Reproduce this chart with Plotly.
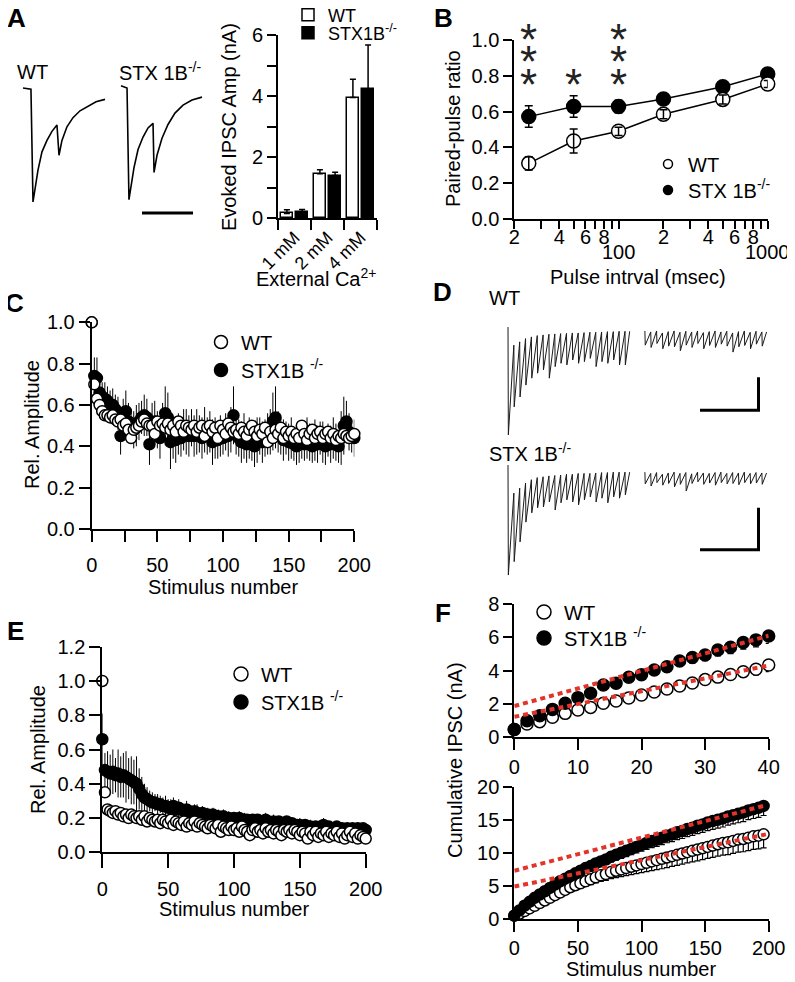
import math
import plotly.graph_objects as go

# page geometry: the browser draws the figure inside an 8px body margin
PAGE_W, PAGE_H = 795, 982
OFF = 8
W, H = PAGE_W - OFF, PAGE_H - OFF
FONT = "Arial, Liberation Sans, sans-serif"

# ---------------- A: evoked IPSC amplitude ----------------
ca_labels = ["1 mM", "2 mM", "4 mM"]
amp_wt = [0.15, 1.45, 3.95]
amp_wt_sem = [0.12, 0.13, 0.60]
amp_ko = [0.20, 1.39, 4.24]
amp_ko_sem = [0.08, 0.11, 1.43]

# A: example paired-pulse traces (time in ms, normalised current)
pp_t_wt = [0, 7.8, 9.8, 11.8, 14.7, 18.6, 23.5, 28.4, 33.3, 35.3, 38.2, 43.1, 49.0, 55.9, 63.7, 71.6, 80.4]
pp_i_wt = [0, -0.01, -1.0, -0.895, -0.72, -0.56, -0.46, -0.38, -0.325, -0.59, -0.46, -0.34, -0.26, -0.20, -0.16, -0.12, -0.10]
pp_t_ko = [0, 5.9, 7.8, 9.8, 12.7, 16.7, 21.6, 26.5, 31.4, 32.4, 35.3, 40.2, 46.1, 52.9, 60.8, 69.6, 79.4]
pp_i_ko = [0.02, 0, -0.98, -0.88, -0.70, -0.54, -0.43, -0.35, -0.31, -0.74, -0.59, -0.44, -0.32, -0.22, -0.15, -0.105, -0.08]
pp_scale_ms = 50

# ---------------- B: paired-pulse ratio ----------------
ppr_interval = [25, 50, 100, 200, 500, 1000]
ppr_wt = [0.311, 0.436, 0.490, 0.585, 0.668, 0.754]
ppr_wt_sem = [0.037, 0.067, 0.023, 0.025, 0.025, 0.020]
ppr_ko = [0.572, 0.628, 0.628, 0.670, 0.739, 0.810]
ppr_ko_sem = [0.060, 0.060, 0.035, 0.020, 0.020, 0.020]
sig_interval = [25, 50, 100]
sig_stars = [3, 1, 3]

# ---------------- C: relative amplitude (every 2nd stimulus) ----------------
stim_c = list(range(0, 201, 2))
rel_c_wt = [1.00, 0.70, 0.63, 0.60, 0.57, 0.55, 0.55, 0.54, 0.55, 0.53,
            0.52, 0.53, 0.50, 0.51, 0.48, 0.44, 0.48, 0.49, 0.50, 0.52,
            0.53, 0.51, 0.50, 0.50, 0.46, 0.52, 0.50, 0.51, 0.49, 0.51,
            0.48, 0.50, 0.47, 0.52, 0.50, 0.47, 0.50, 0.49, 0.48, 0.50,
            0.47, 0.49, 0.50, 0.45, 0.49, 0.50, 0.47, 0.49, 0.44, 0.50,
            0.48, 0.46, 0.51, 0.49, 0.47, 0.48, 0.46, 0.49, 0.47, 0.45,
            0.48, 0.50, 0.47, 0.45, 0.48, 0.46, 0.49, 0.42, 0.47, 0.44,
            0.48, 0.46, 0.49, 0.44, 0.47, 0.45, 0.47, 0.44, 0.46, 0.44,
            0.50, 0.46, 0.43, 0.46, 0.48, 0.44, 0.46, 0.47, 0.44, 0.46,
            0.47, 0.44, 0.46, 0.43, 0.45, 0.44, 0.46, 0.45, 0.44, 0.45,
            0.46]
rel_c_ko = [1.00, 0.74, 0.73, 0.66, 0.64, 0.63, 0.62, 0.60, 0.60, 0.58,
            0.56, 0.45, 0.55, 0.57, 0.52, 0.50, 0.48, 0.50, 0.52, 0.54,
            0.55, 0.54, 0.41, 0.50, 0.52, 0.48, 0.44, 0.52, 0.56, 0.54,
            0.42, 0.44, 0.43, 0.46, 0.44, 0.48, 0.47, 0.45, 0.49, 0.45,
            0.47, 0.46, 0.44, 0.48, 0.45, 0.47, 0.42, 0.44, 0.43, 0.45,
            0.44, 0.47, 0.45, 0.48, 0.55, 0.46, 0.44, 0.42, 0.45, 0.41,
            0.44, 0.42, 0.40, 0.43, 0.45, 0.42, 0.44, 0.46, 0.47, 0.52,
            0.54, 0.47, 0.45, 0.43, 0.44, 0.42, 0.44, 0.41, 0.40, 0.42,
            0.43, 0.41, 0.44, 0.42, 0.40, 0.43, 0.41, 0.44, 0.42, 0.40,
            0.43, 0.41, 0.44, 0.42, 0.40, 0.44, 0.50, 0.52, 0.47, 0.45,
            0.44]
rel_c_ko_sem = [0.00, 0.09, 0.10, 0.08, 0.07, 0.08, 0.07, 0.07, 0.08, 0.07,
                0.08, 0.09, 0.08, 0.10, 0.09, 0.08, 0.09, 0.10, 0.09, 0.08,
                0.10, 0.09, 0.10, 0.11, 0.10, 0.09, 0.10, 0.09, 0.13, 0.12,
                0.13, 0.10, 0.11, 0.10, 0.09, 0.10, 0.11, 0.10, 0.09, 0.10,
                0.11, 0.09, 0.10, 0.11, 0.09, 0.10, 0.11, 0.10, 0.09, 0.10,
                0.08, 0.09, 0.10, 0.11, 0.14, 0.10, 0.09, 0.10, 0.11, 0.09,
                0.10, 0.09, 0.10, 0.11, 0.09, 0.10, 0.09, 0.10, 0.11, 0.14,
                0.15, 0.10, 0.09, 0.10, 0.08, 0.09, 0.10, 0.08, 0.09, 0.10,
                0.09, 0.08, 0.10, 0.09, 0.08, 0.10, 0.09, 0.08, 0.10, 0.09,
                0.08, 0.09, 0.10, 0.09, 0.08, 0.13, 0.14, 0.10, 0.09, 0.08,
                0.09]

# ---------------- D: example trains (per-stimulus top / peak, nA) ----------------
train_isi_ms = 50
train_gap_start_ms = 1170
d_wt_top1 = [0, -0.55, -0.45, -0.35, -0.30, -0.26, -0.24, -0.22, -0.21, -0.20, -0.19,
             -0.18, -0.18, -0.17, -0.16, -0.16, -0.15, -0.14, -0.14, -0.13, -0.13]
d_wt_peak1 = [-3.27, -2.42, -2.12, -1.76, -1.55, -1.40, -1.30, -1.55, -1.20, -1.10, -1.15,
              -1.00, -1.10, -1.05, -0.95, -1.20, -1.05, -1.10, -1.00, -1.15, -1.15]
d_wt_top2 = [-0.12, -0.15, -0.12, -0.18, -0.14, -0.12, -0.16, -0.13, -0.15, -0.12, -0.17,
             -0.14, -0.12, -0.15, -0.13, -0.18, -0.14, -0.12, -0.16, -0.13, -0.15]
d_wt_peak2 = [-0.55, -0.62, -0.50, -0.66, -0.58, -0.60, -0.72, -0.55, -0.62, -0.50, -0.66,
              -0.56, -0.62, -0.52, -0.58, -0.76, -0.60, -0.56, -0.66, -0.52, -0.58]
d_ko_top1 = [0, -0.67, -0.55, -0.43, -0.35, -0.30, -0.28, -0.26, -0.25, -0.24, -0.22,
             -0.22, -0.20, -0.20, -0.20, -0.19, -0.18, -0.18, -0.17, -0.17, -0.17]
d_ko_peak1 = [-2.62, -2.30, -1.83, -1.36, -1.14, -1.02, -1.00, -0.88, -1.07, -0.90, -0.83,
              -0.88, -0.95, -0.83, -0.76, -0.88, -0.79, -0.90, -0.76, -0.79, -0.71]
d_ko_top2 = [-0.17, -0.20, -0.18, -0.22, -0.19, -0.17, -0.20, -0.18, -0.21, -0.17, -0.19,
             -0.20, -0.18, -0.17, -0.20, -0.18, -0.19, -0.17, -0.20, -0.18, -0.19]
d_ko_peak2 = [-0.45, -0.50, -0.42, -0.48, -0.44, -0.52, -0.46, -0.62, -0.44, -0.40, -0.46,
              -0.43, -0.48, -0.42, -0.45, -0.44, -0.47, -0.42, -0.45, -0.43, -0.46]
d_scale_ms = 500
d_scale_na = 1

# ---------------- E: relative amplitude (every 2nd stimulus) ----------------
stim_e = list(range(0, 201, 2))
rel_e_wt = [1.00, 0.35, 0.25, 0.24, 0.23, 0.24, 0.22, 0.23, 0.21, 0.22,
            0.20, 0.22, 0.21, 0.20, 0.21, 0.19, 0.21, 0.18, 0.20, 0.19,
            0.18, 0.19, 0.17, 0.19, 0.18, 0.17, 0.19, 0.16, 0.18, 0.17,
            0.16, 0.18, 0.15, 0.17, 0.16, 0.18, 0.15, 0.17, 0.16, 0.15,
            0.14, 0.16, 0.15, 0.14, 0.16, 0.12, 0.15, 0.14, 0.13, 0.15,
            0.13, 0.14, 0.12, 0.15, 0.13, 0.12, 0.10, 0.13, 0.14, 0.12,
            0.13, 0.11, 0.14, 0.12, 0.13, 0.11, 0.13, 0.12, 0.10, 0.13,
            0.12, 0.13, 0.11, 0.13, 0.12, 0.10, 0.12, 0.11, 0.08, 0.12,
            0.10, 0.12, 0.09, 0.11, 0.10, 0.12, 0.09, 0.11, 0.10, 0.12,
            0.09, 0.11, 0.08, 0.10, 0.12, 0.09, 0.11, 0.08, 0.10, 0.09,
            0.08]
rel_e_ko = [0.66, 0.48, 0.47, 0.46, 0.47, 0.45, 0.46, 0.44, 0.45, 0.44,
            0.43, 0.42, 0.41, 0.40, 0.37, 0.34, 0.32, 0.31, 0.30, 0.29,
            0.29, 0.28, 0.28, 0.27, 0.27, 0.26, 0.26, 0.27, 0.25, 0.26,
            0.25, 0.24, 0.25, 0.24, 0.23, 0.24, 0.23, 0.22, 0.23, 0.22,
            0.22, 0.21, 0.22, 0.21, 0.21, 0.20, 0.21, 0.20, 0.20, 0.19,
            0.20, 0.19, 0.20, 0.19, 0.19, 0.19, 0.18, 0.19, 0.18, 0.19,
            0.18, 0.18, 0.19, 0.18, 0.17, 0.18, 0.17, 0.18, 0.17, 0.17,
            0.18, 0.16, 0.17, 0.16, 0.16, 0.16, 0.15, 0.16, 0.15, 0.15,
            0.14, 0.15, 0.14, 0.15, 0.16, 0.14, 0.15, 0.14, 0.14, 0.15,
            0.13, 0.14, 0.13, 0.14, 0.13, 0.14, 0.13, 0.14, 0.13, 0.14,
            0.13]
rel_e_ko_sem = [0.15, 0.10, 0.12, 0.11, 0.13, 0.10, 0.14, 0.12, 0.13, 0.15,
                0.12, 0.14, 0.13, 0.16, 0.12, 0.10, 0.08, 0.07, 0.06, 0.06,
                0.05, 0.06, 0.05, 0.05, 0.06, 0.05, 0.05, 0.05, 0.04, 0.05,
                0.04, 0.04, 0.05, 0.04, 0.04, 0.04, 0.05, 0.04, 0.04, 0.04,
                0.04, 0.04, 0.04, 0.03, 0.04, 0.04, 0.04, 0.03, 0.04, 0.04,
                0.03, 0.04, 0.04, 0.03, 0.04, 0.03, 0.04, 0.03, 0.04, 0.03,
                0.04, 0.03, 0.04, 0.03, 0.03, 0.04, 0.03, 0.03, 0.04, 0.03,
                0.03, 0.04, 0.03, 0.03, 0.03, 0.04, 0.03, 0.03, 0.03, 0.04,
                0.03, 0.03, 0.03, 0.03, 0.04, 0.03, 0.03, 0.03, 0.03, 0.03,
                0.03, 0.03, 0.03, 0.03, 0.03, 0.03, 0.03, 0.03, 0.03, 0.03,
                0.03]

# ---------------- F: cumulative IPSC ----------------
stim_f1 = list(range(0, 41, 2))
cum1_wt = [0.44, 0.77, 0.91, 1.17, 1.41, 1.61, 1.77, 2.02, 2.16, 2.34, 2.52,
           2.70, 2.88, 3.06, 3.24, 3.45, 3.60, 3.76, 3.93, 4.08, 4.33]
cum1_wt_sem = [0.03, 0.05, 0.06, 0.08, 0.10, 0.11, 0.12, 0.14, 0.15, 0.17, 0.18,
               0.20, 0.21, 0.23, 0.24, 0.26, 0.28, 0.30, 0.32, 0.34, 0.40]
cum1_ko = [0.44, 0.97, 1.27, 1.65, 2.02, 2.36, 2.62, 3.12, 3.23, 3.59, 3.75,
           4.03, 4.23, 4.58, 4.78, 4.94, 5.24, 5.40, 5.69, 5.85, 6.09]
cum1_ko_sem = [0.05, 0.08, 0.10, 0.12, 0.14, 0.16, 0.18, 0.20, 0.22, 0.24, 0.26,
               0.28, 0.30, 0.32, 0.33, 0.35, 0.36, 0.38, 0.40, 0.42, 0.45]
fit1_x = [0, 40]
fit1_wt = [1.20, 4.30]
fit1_ko = [1.85, 6.10]

stim_f2 = list(range(0, 197, 4))
cum2_wt = [0.5, 0.8, 1.2, 1.6, 2.0, 2.4, 2.8, 3.2, 3.6, 4.0,
           4.4, 4.8, 5.1, 5.4, 5.7, 6.0, 6.3, 6.6, 6.8, 7.1,
           7.3, 7.5, 7.7, 7.9, 8.1, 8.3, 8.5, 8.7, 8.9, 9.1,
           9.3, 9.5, 9.7, 9.9, 10.1, 10.3, 10.5, 10.7, 10.9, 11.1,
           11.3, 11.5, 11.6, 11.8, 12.0, 12.1, 12.3, 12.5, 12.6, 12.8]
cum2_wt_sem = [0.05, 0.1, 0.15, 0.2, 0.25, 0.3, 0.35, 0.4, 0.45, 0.5,
               0.55, 0.6, 0.65, 0.7, 0.75, 0.8, 0.85, 0.9, 0.95, 1.0,
               1.05, 1.1, 1.15, 1.2, 1.25, 1.3, 1.35, 1.4, 1.45, 1.5,
               1.52, 1.55, 1.58, 1.6, 1.63, 1.66, 1.7, 1.72, 1.75, 1.78,
               1.8, 1.83, 1.86, 1.88, 1.9, 1.93, 1.95, 1.98, 2.0, 2.05]
cum2_ko = [0.5, 1.3, 2.0, 2.6, 3.2, 3.7, 4.2, 4.7, 5.2, 5.7,
           6.1, 6.5, 6.9, 7.3, 7.7, 8.0, 8.4, 8.7, 9.0, 9.4,
           9.7, 10.0, 10.3, 10.6, 10.9, 11.2, 11.5, 11.8, 12.0, 12.3,
           12.6, 12.8, 13.1, 13.3, 13.6, 13.8, 14.1, 14.3, 14.6, 14.8,
           15.0, 15.2, 15.5, 15.7, 15.9, 16.1, 16.4, 16.6, 16.8, 17.1]
cum2_ko_sem = [0.05, 0.08, 0.1, 0.14, 0.18, 0.22, 0.26, 0.3, 0.34, 0.38,
               0.42, 0.46, 0.5, 0.54, 0.58, 0.62, 0.66, 0.7, 0.74, 0.78,
               0.8, 0.83, 0.86, 0.89, 0.92, 0.95, 0.98, 1.0, 1.03, 1.05,
               1.07, 1.09, 1.11, 1.13, 1.15, 1.17, 1.19, 1.21, 1.23, 1.25,
               1.27, 1.29, 1.31, 1.33, 1.35, 1.37, 1.39, 1.41, 1.43, 1.45]
fit2_x = [0, 198]
fit2_wt = [4.9, 12.8]
fit2_ko = [7.3, 17.2]

# ======================================================================
def dx(a, b):
    return [(a - OFF) / W, (b - OFF) / W]


def dy(top, bottom):
    return [1 - (bottom - OFF) / H, 1 - (top - OFF) / H]


def px_range(p0, p1, zero_px, px_per_unit, invert=False):
    if invert:
        return [(zero_px - p1) / px_per_unit, (zero_px - p0) / px_per_unit]
    return [(p0 - zero_px) / px_per_unit, (p1 - zero_px) / px_per_unit]


FS = 20
TF = dict(family=FONT, size=FS, color="black")
AX = dict(showline=True, linecolor="black", linewidth=2, ticks="outside", tickwidth=1.5,
          tickcolor="black", ticklen=9, showgrid=False, zeroline=False, tickfont=TF,
          fixedrange=True, mirror=False, automargin=False)
HID = dict(visible=False, fixedrange=True, showgrid=False, zeroline=False, automargin=False)
MINOR = dict(ticks="outside", tickwidth=1.5, tickcolor="black", showgrid=False)

fig = go.Figure()

WHITE_MK = dict(symbol="circle", color="white", line=dict(color="black", width=1.5))
BLACK_MK = dict(symbol="circle", color="black", line=dict(color="black", width=1.5))

# ---------------- A bars ----------------
xc = list(range(len(ca_labels)))
fig.add_trace(go.Bar(x=[i + 0.27 for i in xc], y=amp_wt, width=0.34, name="WT",
                     marker=dict(color="white", line=dict(color="black", width=1.5)),
                     error_y=dict(type="data", symmetric=False, array=amp_wt_sem,
                                  arrayminus=[0] * 3, thickness=1.5, width=3, color="black"),
                     xaxis="x", yaxis="y", legend="legend", showlegend=True, hoverinfo="skip"))
fig.add_trace(go.Bar(x=[i + 0.73 for i in xc], y=amp_ko, width=0.34, name="STX1B<sup>-/-</sup>",
                     marker=dict(color="black", line=dict(color="black", width=1.5)),
                     error_y=dict(type="data", symmetric=False, array=amp_ko_sem,
                                  arrayminus=[0] * 3, thickness=1.5, width=3, color="black"),
                     xaxis="x", yaxis="y", legend="legend6", showlegend=True, hoverinfo="skip"))

# A traces
fig.add_trace(go.Scatter(x=pp_t_wt, y=pp_i_wt, mode="lines", line=dict(color="black", width=1.6),
                         xaxis="x7", yaxis="y7", showlegend=False, hoverinfo="skip"))
fig.add_trace(go.Scatter(x=pp_t_ko, y=pp_i_ko, mode="lines", line=dict(color="black", width=1.6),
                         xaxis="x8", yaxis="y8", showlegend=False, hoverinfo="skip"))
fig.add_trace(go.Scatter(x=[20.6, 20.6 + pp_scale_ms], y=[-1.096, -1.096], mode="lines",
                         line=dict(color="black", width=3), xaxis="x8", yaxis="y8",
                         showlegend=False, hoverinfo="skip"))

# ---------------- B ----------------
fig.add_trace(go.Scatter(x=ppr_interval, y=ppr_ko, mode="lines+markers", cliponaxis=False,
                         line=dict(color="black", width=1.5), marker=dict(size=14, **BLACK_MK),
                         error_y=dict(type="data", array=ppr_ko_sem, thickness=1.5, width=4, color="black"),
                         xaxis="x2", yaxis="y2", showlegend=False, hoverinfo="skip"))
fig.add_trace(go.Scatter(x=ppr_interval, y=ppr_wt, mode="lines+markers", cliponaxis=False,
                         line=dict(color="black", width=1.5), marker=dict(size=14, **WHITE_MK),
                         xaxis="x2", yaxis="y2", showlegend=False, hoverinfo="skip"))
fig.add_trace(go.Scatter(x=ppr_interval, y=ppr_wt, mode="markers", cliponaxis=False,
                         marker=dict(size=1, color="rgba(0,0,0,0)"),
                         error_y=dict(type="data", array=ppr_wt_sem, thickness=1.5, width=4, color="black"),
                         xaxis="x2", yaxis="y2", showlegend=False, hoverinfo="skip"))


def legend_item(name, mk, size, xa, ya, legend_id):
    fig.add_trace(go.Scatter(x=[None], y=[None], mode="markers", name=name,
                             marker=dict(size=size, **mk), xaxis=xa, yaxis=ya,
                             legend=legend_id, showlegend=True, hoverinfo="skip"))


legend_item("WT", WHITE_MK, 9, "x2", "y2", "legend2")
legend_item("STX 1B<sup>-/-</sup>", BLACK_MK, 9, "x2", "y2", "legend7")

# ---------------- C ----------------
fig.add_trace(go.Scatter(x=stim_c, y=rel_c_ko, mode="markers", cliponaxis=False,
                         marker=dict(size=11, **BLACK_MK),
                         error_y=dict(type="data", array=rel_c_ko_sem, thickness=1, width=0, color="black"),
                         xaxis="x3", yaxis="y3", showlegend=False, hoverinfo="skip"))
fig.add_trace(go.Scatter(x=stim_c, y=rel_c_wt, mode="markers", cliponaxis=False,
                         marker=dict(size=11, **WHITE_MK),
                         xaxis="x3", yaxis="y3", showlegend=False, hoverinfo="skip"))
legend_item("WT", WHITE_MK, 13, "x3", "y3", "legend3")
legend_item("STX1B <sup>-/-</sup>", BLACK_MK, 13, "x3", "y3", "legend8")


# ---------------- D ----------------
def sawtooth(t0, tops, peaks, tail):
    xs, ys = [], []
    for i, (tp, pk) in enumerate(zip(tops, peaks)):
        t = t0 + i * train_isi_ms
        xs += [t, t + 0.06 * train_isi_ms]
        ys += [tp, pk]
    xs.append(t0 + (len(peaks) - 0.2) * train_isi_ms)
    ys.append(tail)
    return xs, ys


for xa, ya, tops1, peaks1, tops2, peaks2 in [
        ("x9", "y9", d_wt_top1, d_wt_peak1, d_wt_top2, d_wt_peak2),
        ("x10", "y10", d_ko_top1, d_ko_peak1, d_ko_top2, d_ko_peak2)]:
    for t0, tps, pks in [(0, tops1, peaks1), (train_gap_start_ms, tops2, peaks2)]:
        sx, sy = sawtooth(t0, tps, pks, tps[-1])
        fig.add_trace(go.Scatter(x=sx, y=sy, mode="lines", line=dict(color="#1a1a1a", width=1),
                                 xaxis=xa, yaxis=ya, showlegend=False, hoverinfo="skip"))
bar_t_end = 2141
for xa, ya, base in [("x9", "y9", -2.52), ("x10", "y10", -2.02)]:
    fig.add_trace(go.Scatter(x=[bar_t_end - d_scale_ms, bar_t_end, bar_t_end],
                             y=[base, base, base + d_scale_na], mode="lines",
                             line=dict(color="black", width=3), xaxis=xa, yaxis=ya,
                             showlegend=False, hoverinfo="skip"))

# ---------------- E ----------------
fig.add_trace(go.Scatter(x=stim_e, y=rel_e_ko, mode="markers", cliponaxis=False,
                         marker=dict(size=11, **BLACK_MK),
                         error_y=dict(type="data", array=rel_e_ko_sem, thickness=1, width=0, color="black"),
                         xaxis="x4", yaxis="y4", showlegend=False, hoverinfo="skip"))
fig.add_trace(go.Scatter(x=stim_e, y=rel_e_wt, mode="markers", cliponaxis=False,
                         marker=dict(size=11, **WHITE_MK),
                         xaxis="x4", yaxis="y4", showlegend=False, hoverinfo="skip"))
legend_item("WT", WHITE_MK, 14, "x4", "y4", "legend4")
legend_item("STX1B <sup>-/-</sup>", BLACK_MK, 14, "x4", "y4", "legend9")

# ---------------- F ----------------
RED = "#e3342b"
for xa, ya, sx, wt, wts, ko, kos, fx, fwt, fko, ms in [
        ("x5", "y5", stim_f1, cum1_wt, cum1_wt_sem, cum1_ko, cum1_ko_sem, fit1_x, fit1_wt, fit1_ko, 12),
        ("x6", "y6", stim_f2, cum2_wt, cum2_wt_sem, cum2_ko, cum2_ko_sem, fit2_x, fit2_wt, fit2_ko, 11)]:
    fig.add_trace(go.Scatter(x=sx, y=wt, mode="markers", cliponaxis=False,
                             marker=dict(size=ms, **WHITE_MK),
                             error_y=dict(type="data", symmetric=False, array=[0] * len(wts),
                                          arrayminus=wts, thickness=1.2, width=3, color="black"),
                             xaxis=xa, yaxis=ya, showlegend=False, hoverinfo="skip"))
    fig.add_trace(go.Scatter(x=sx, y=ko, mode="markers", cliponaxis=False,
                             marker=dict(size=ms, **BLACK_MK),
                             error_y=dict(type="data", symmetric=False, array=[0] * len(kos),
                                          arrayminus=kos, thickness=1.2, width=3, color="black"),
                             xaxis=xa, yaxis=ya, showlegend=False, hoverinfo="skip"))
    for fy in (fwt, fko):
        fig.add_trace(go.Scatter(x=fx, y=fy, mode="lines", cliponaxis=False,
                                 line=dict(color=RED, width=4, dash="5px,4px"),
                                 xaxis=xa, yaxis=ya, showlegend=False, hoverinfo="skip"))
legend_item("WT", WHITE_MK, 14, "x5", "y5", "legend5")
legend_item("STX1B <sup>-/-</sup>", BLACK_MK, 14, "x5", "y5", "legend10")

# ======================================================================
b_major = [20, 40, 60, 80, 200, 400, 600, 800]
b_minor = [30, 50, 70, 90, 100, 300, 500, 700, 900, 1000]
b_text = [str(int(str(v)[0])) for v in b_major]


def leg(mx, my, size=FS):
    return dict(x=(mx - 20 - OFF) / W, y=1 - (my - OFF) / H, xanchor="left", yanchor="middle",
                bgcolor="rgba(0,0,0,0)", borderwidth=0, tracegroupgap=0,
                font=dict(family=FONT, size=size, color="black"), itemclick=False,
                itemdoubleclick=False)


layout = dict(
    width=W, height=H, margin=dict(l=0, r=0, t=0, b=0, autoexpand=False), autosize=False,
    paper_bgcolor="white", plot_bgcolor="rgba(0,0,0,0)",
    font=dict(family=FONT, size=FS, color="black"), bargap=0,
    # A bar chart
    xaxis=dict(AX, domain=dx(278, 377), range=[0, 3], anchor="y", tickvals=[0.5, 1.5, 2.5],
               ticktext=ca_labels, ticks="", tickangle=-45,
               tickfont=dict(family=FONT, size=18, color="black"),
               minor=dict(MINOR, tickvals=[0, 1, 2, 3], ticklen=10)),
    yaxis=dict(AX, domain=dy(35, 218), range=[0, 6], anchor="x", tickvals=[0, 2, 4, 6],
               minor=dict(MINOR, tickvals=[1, 3, 5], ticklen=9)),
    # B
    xaxis2=dict(AX, type="log", domain=dx(514.3, 767.7), range=[math.log10(20), 3], anchor="y2",
                tickvals=b_major, ticktext=b_text, ticklen=8, ticklabelstandoff=-9,
                minor=dict(MINOR, tickvals=b_minor, ticklen=8)),
    yaxis2=dict(AX, domain=dy(40, 219), range=[0, 1], anchor="x2",
                tickvals=[0, 0.2, 0.4, 0.6, 0.8, 1.0], tickformat=".1f"),
    # C
    xaxis3=dict(AX, domain=dx(91.7, 354.3), range=[0, 200], anchor="y3",
                tickvals=[0, 50, 100, 150, 200], ticklen=11, ticklabelstandoff=6,
                minor=dict(MINOR, tickvals=[25, 75, 125, 175], ticklen=11)),
    yaxis3=dict(AX, domain=dy(322.3, 529), range=[0, 1], anchor="x3",
                tickvals=[0, 0.2, 0.4, 0.6, 0.8, 1.0], tickformat=".1f", ticklen=11),
    # E
    xaxis4=dict(AX, domain=dx(102.3, 365.7), range=[0, 200], anchor="y4",
                tickvals=[0, 50, 100, 150, 200], ticklen=14, ticklabelstandoff=4),
    yaxis4=dict(AX, domain=dy(646.7, 852.3), range=[0, 1.2], anchor="x4",
                tickvals=[0, 0.2, 0.4, 0.6, 0.8, 1.0, 1.2], tickformat=".1f", ticklen=11),
    # F top
    xaxis5=dict(AX, domain=dx(514.3, 768.7), range=[0, 40], anchor="y5",
                tickvals=[0, 10, 20, 30, 40], ticklen=11, ticklabelstandoff=0),
    yaxis5=dict(AX, domain=dy(604.3, 736.7), range=[0, 8], anchor="x5",
                tickvals=[0, 2, 4, 6, 8], ticklen=9),
    # F bottom
    xaxis6=dict(AX, domain=dx(514.3, 768.7), range=[0, 200], anchor="y6",
                tickvals=[0, 50, 100, 150, 200], ticklen=11, ticklabelstandoff=-1),
    yaxis6=dict(AX, domain=dy(786.7, 919), range=[0, 20], anchor="x6",
                tickvals=[0, 5, 10, 15, 20], ticklen=9),
    # hidden axes for example traces
    xaxis7=dict(HID, domain=dx(15, 115), range=px_range(15, 115, 23, 1.02), anchor="y7"),
    yaxis7=dict(HID, domain=dy(78, 220), range=px_range(78, 220, 88, 114, invert=True), anchor="x7"),
    xaxis8=dict(HID, domain=dx(113, 213), range=px_range(113, 213, 121, 1.02), anchor="y8"),
    yaxis8=dict(HID, domain=dy(78, 220), range=px_range(78, 220, 88, 114, invert=True), anchor="x8"),
    xaxis9=dict(HID, domain=dx(500, 775), range=px_range(500, 775, 508, 0.117), anchor="y9"),
    yaxis9=dict(HID, domain=dy(318, 445), range=px_range(318, 445, 327, 33, invert=True), anchor="x9"),
    xaxis10=dict(HID, domain=dx(500, 775), range=px_range(500, 775, 508, 0.117), anchor="y10"),
    yaxis10=dict(HID, domain=dy(456, 585), range=px_range(456, 585, 465, 42, invert=True), anchor="x10"),
    legend=leg(308, 15, 18), legend6=leg(308, 33, 18),
    legend2=leg(668, 164), legend7=leg(668, 190),
    legend3=leg(221, 342), legend8=leg(221, 370),
    legend4=leg(241, 674), legend9=leg(241, 702),
    legend5=leg(544, 612), legend10=leg(544, 638),
)
fig.update_layout(**layout)

# ---------------- text annotations ----------------
ann = []


def txt(x, y, s, size=FS, bold=False, angle=0, xanchor="center", yanchor="middle"):
    ann.append(dict(x=(x - OFF) / W, y=1 - (y - OFF) / H, xref="paper", yref="paper",
                    text=("<b>%s</b>" % s) if bold else s,
                    showarrow=False, textangle=angle, xanchor=xanchor, yanchor=yanchor,
                    font=dict(family=FONT, size=size, color="black")))


for L, x, y in [("A", 16, 18), ("B", 443, 18), ("C", 14, 303), ("D", 442, 292), ("E", 15, 631), ("F", 443, 613)]:
    txt(x, y, L, size=26, bold=True)
txt(229, 127, "Evoked IPSC Amp (nA)", angle=-90)
txt(316, 277, "External Ca<sup>2+</sup>")
txt(453, 129, "Paired-pulse ratio", angle=-90)
txt(638, 277, "Pulse intrval (msec)")
txt(32, 425, "Rel. Amplitude", angle=-90)
txt(223, 587, "Stimulus number")
txt(38, 750, "Rel. Amplitude", angle=-90)
txt(234, 909, "Stimulus number")
txt(455, 760, "Cumulative IPSC (nA)", angle=-90)
txt(641, 969, "Stimulus number")
txt(32, 72, "WT")
txt(117, 72, "STX 1B<sup>-/-</sup>", xanchor="left")
txt(504, 298, "WT")
txt(487, 452, "STX 1B<sup>-/-</sup>", xanchor="left")

# B decade labels on a second row
for v in (100, 1000):
    ann.append(dict(x=math.log10(v), xref="x2", y=1 - (252 - OFF) / H, yref="paper", text=str(v),
                    yanchor="middle", showarrow=False, font=dict(family=FONT, size=FS, color="black")))

# significance stars (converted from B's data units to paper units)
yb = layout["yaxis2"]
star_base, star_step = 0.81, 0.125


def y2_to_paper(v):
    d0, d1 = yb["domain"]
    r0, r1 = yb["range"]
    return d0 + (v - r0) / (r1 - r0) * (d1 - d0)


for xi, n in zip(sig_interval, sig_stars):
    for k in range(n):
        ann.append(dict(x=math.log10(xi), xref="x2", y=y2_to_paper(star_base + k * star_step),
                        yref="paper", yanchor="middle", text="*", showarrow=False, yshift=-10,
                        font=dict(family=FONT, size=44, color="#222")))

fig.update_layout(annotations=ann)
fig.write_html("out.html")
